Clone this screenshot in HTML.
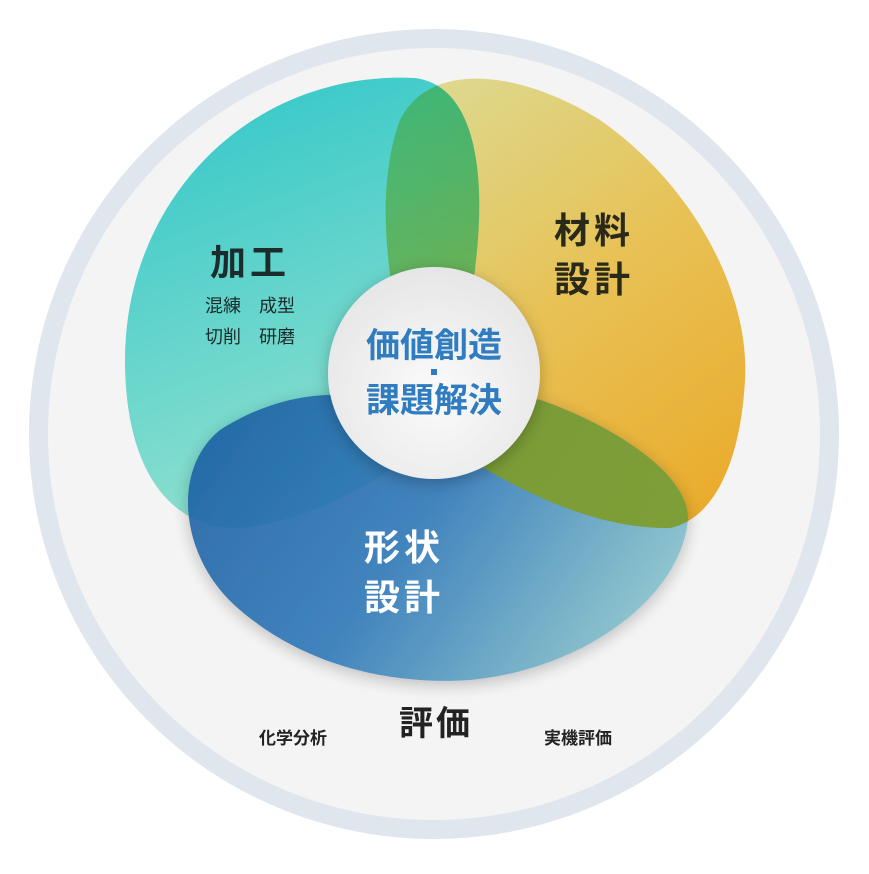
<!DOCTYPE html>
<html><head><meta charset="utf-8"><style>
html,body{margin:0;padding:0;background:#fff;}
svg text{font-family:"Liberation Sans","Noto Sans CJK JP",sans-serif;font-weight:bold;}
</style></head><body>
<svg width="869" height="869" viewBox="0 0 869 869" xmlns="http://www.w3.org/2000/svg">
<defs>
<linearGradient id="gt" x1="0" y1="0" x2="0.3" y2="1"><stop offset="0" stop-color="#2ec6c8"/><stop offset="1" stop-color="#8fe0cf"/></linearGradient>
<linearGradient id="gy" x1="0.2" y1="0" x2="0.8" y2="1"><stop offset="0" stop-color="#e6e08a"/><stop offset="0.5" stop-color="#f2c64a"/><stop offset="1" stop-color="#f4ae1e"/></linearGradient>
<linearGradient id="gb" x1="0" y1="0.3" x2="1" y2="0.7"><stop offset="0" stop-color="#1e62a4"/><stop offset="0.45" stop-color="#2f78b8"/><stop offset="1" stop-color="#8ec8cc"/></linearGradient>
<radialGradient id="gc" cx="0.5" cy="0.6" r="0.6"><stop offset="0" stop-color="#fbfbfb"/><stop offset="1" stop-color="#e6e6e6"/></radialGradient>
<filter id="sh" x="-20%" y="-20%" width="140%" height="140%"><feDropShadow dx="0" dy="4" stdDeviation="8" flood-color="#000" flood-opacity="0.25"/></filter>
<clipPath id="cb"><path d="M434,434 C380,380 290,385 220,430 C170,470 180,560 240,610 C310,670 400,685 470,680 C580,670 680,600 688,520 C690,470 600,420 540,400 C500,390 460,410 434,434Z"/></clipPath>
</defs>
<circle cx="434" cy="434" r="405" fill="#dfe6ed"/>
<circle cx="434" cy="434" r="386" fill="#f4f4f4"/>
<path d="M434,434 C485,300 510,90 415,78 C250,70 125,200 125,360 C125,470 170,530 240,528 C320,520 400,470 434,434Z" fill="url(#gt)"/>
<path d="M434,434 C390,330 370,200 400,120 C430,60 520,70 600,120 C700,190 750,300 745,380 C740,470 710,520 670,528 C580,530 480,470 434,434Z" fill="url(#gy)" opacity="0.92" style="mix-blend-mode:multiply"/>
<path d="M434,434 C380,380 290,385 220,430 C170,470 180,560 240,610 C310,670 400,685 470,680 C580,670 680,600 688,520 C690,470 600,420 540,400 C500,390 460,410 434,434Z" fill="url(#gb)" opacity="0.9" filter="url(#sh)"/>
<path d="M434,434 C390,330 370,200 400,120 C430,60 520,70 600,120 C700,190 750,300 745,380 C740,470 710,520 670,528 C580,530 480,470 434,434Z" fill="#7d9d30" opacity="0.95" clip-path="url(#cb)"/>
<circle cx="434" cy="373" r="106" fill="url(#gc)" filter="url(#sh)"/>
<text x="434" y="357" font-size="34" fill="#2f7cc0" text-anchor="middle">価値創造</text>
<rect x="431" y="369" width="6" height="6" fill="#2f7cc0"/>
<text x="434" y="412" font-size="34" fill="#2f7cc0" text-anchor="middle">課題解決</text>
<text x="250" y="275" font-size="36" fill="#1c2b2b" text-anchor="middle" letter-spacing="4">加工</text>
<text x="250" y="312" font-size="18" fill="#1c2b2b" text-anchor="middle" style="font-weight:normal">混練　成型</text>
<text x="250" y="343" font-size="18" fill="#1c2b2b" text-anchor="middle" style="font-weight:normal">切削　研磨</text>
<text x="594" y="243" font-size="36" fill="#2a2a1a" text-anchor="middle" letter-spacing="4">材料</text>
<text x="594" y="292" font-size="36" fill="#2a2a1a" text-anchor="middle" letter-spacing="4">設計</text>
<text x="404" y="560" font-size="36" fill="#fff" text-anchor="middle" letter-spacing="4">形状</text>
<text x="404" y="610" font-size="36" fill="#fff" text-anchor="middle" letter-spacing="4">設計</text>
<text x="436" y="735" font-size="34" fill="#222" text-anchor="middle" letter-spacing="3">評価</text>
<text x="293" y="744" font-size="17" fill="#222" text-anchor="middle">化学分析</text>
<text x="578" y="744" font-size="17" fill="#222" text-anchor="middle">実機評価</text>
</svg>
</body></html>
